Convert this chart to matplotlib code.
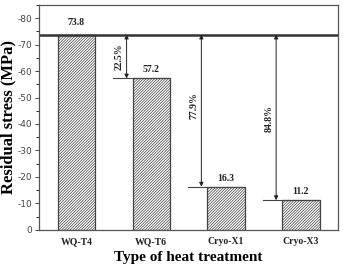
import matplotlib

matplotlib.use("Agg")
import matplotlib.pyplot as plt
from matplotlib.ticker import FuncFormatter, MultipleLocator

TREATMENTS = ["WQ-T4", "WQ-T6", "Cryo-X1", "Cryo-X3"]
STRESS = [73.8, 57.2, 16.3, 11.2]
REDUCTION = ["22.5%", "77.9%", "84.8%"]
# vertical centre of each percentage label (data units)
REDUCTION_Y = [65.5, 47.0, 42.0]

plt.rcParams["font.family"] = ["Liberation Serif", "DejaVu Serif"]
plt.rcParams["hatch.color"] = "#808080"
plt.rcParams["hatch.linewidth"] = 0.5

fig = plt.figure(figsize=(3.43, 2.72), dpi=100)
ax = fig.add_axes([0.114, 0.155, 0.872, 0.827])

xs = list(range(len(TREATMENTS)))
ax.bar(xs, STRESS, width=0.5, color="white", edgecolor="#444444",
       hatch="/" * 12, linewidth=0.9)

ref = STRESS[0]
ax.axhline(ref, color="#333333", linewidth=1.8)

for x, v in zip(xs, STRESS):
    ax.text(x, v + 1.5 if x else ref + 2.8, f"{v:.1f}", ha="center", va="bottom",
            fontsize=7, fontweight="bold", color="#222222")

for i, (x, v) in enumerate(zip(xs[1:], STRESS[1:])):
    ax.plot([x - 0.51, x + 0.25], [v, v], color="#444444", linewidth=0.8)
    ax_x = x - 0.33
    ax.annotate("", xy=(ax_x, ref), xytext=(ax_x, v),
                arrowprops=dict(arrowstyle="<|-|>", color="#222222", lw=0.7,
                                mutation_scale=6, shrinkA=0, shrinkB=0))
    ax.text(ax_x - 0.04, REDUCTION_Y[i], REDUCTION[i], rotation=90, ha="right",
            va="center", fontsize=7, fontweight="bold", color="#222222")

ax.set_xlim(-0.5, 3.5)
ax.set_ylim(0, 85)
ax.set_xticks(xs)
ax.set_xticklabels(TREATMENTS, fontsize=7, fontweight="bold")
ax.yaxis.set_major_locator(MultipleLocator(10))
ax.yaxis.set_minor_locator(MultipleLocator(5))
ax.yaxis.set_major_formatter(FuncFormatter(lambda v, p: "0" if v == 0 else f"-{v:.0f}"))
ax.tick_params(axis="y", labelsize=7, colors="#444444", length=3, width=0.7, pad=2)
ax.tick_params(axis="y", which="minor", length=2, width=0.6)
for lab in ax.get_yticklabels():
    lab.set_family("DejaVu Sans")
    lab.set_fontsize(6.5)
ax.tick_params(axis="x", length=0, pad=5, colors="#222222")
for s in ax.spines.values():
    s.set_color("#555555")
    s.set_linewidth(0.9)

ax.set_ylabel("Residual stress (MPa)", fontsize=12, fontweight="bold", labelpad=1)
ax.set_xlabel("Type of heat treatment", fontsize=11, fontweight="bold", labelpad=4)

fig.savefig("out.png", dpi=100)
